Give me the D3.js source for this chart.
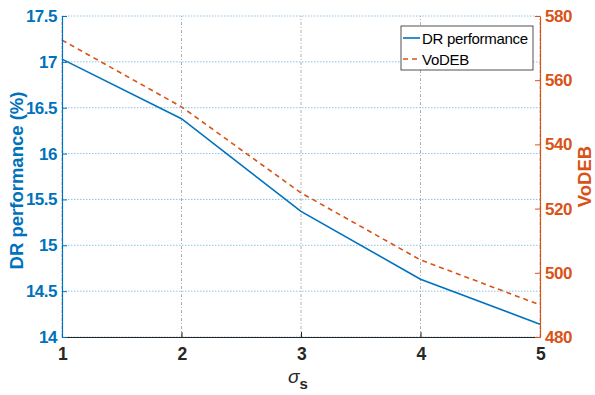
<!DOCTYPE html>
<html>
<head>
<meta charset="utf-8">
<script src="https://cdn.jsdelivr.net/npm/d3@7"></script>
<style>
  body { margin: 0; background: #fff; }
  text { font-family: "Liberation Sans", Arial, sans-serif; }
</style>
</head>
<body>
<script>
var width = 595,
    height = 395;

// data
var sigma = [1, 2, 3, 4, 5];
var drPerf = [17.03, 16.38, 15.37, 14.63, 14.14];
var vodeb = [572.5, 551.7, 524.9, 504.0, 490.0];
var leftTicks = [14, 14.5, 15, 15.5, 16, 16.5, 17, 17.5];
var rightTicks = [480, 500, 520, 540, 560, 580];
var seriesNames = ["DR performance", "VoDEB"];

var blue = "#0072BD",
    orange = "#D95319";

var margin = {top: 16, right: 55, bottom: 58, left: 62};

var svg = d3.select("body").append("svg")
    .attr("width", width)
    .attr("height", height);

var x = d3.scaleLinear().domain([1, 5]).range([margin.left, width - margin.right]);
var yL = d3.scaleLinear().domain([14, 17.5]).range([height - margin.bottom, margin.top]);
var yR = d3.scaleLinear().domain([480, 580]).range([height - margin.bottom, margin.top]);

// horizontal grid (left axis)
svg.append("g")
  .selectAll("line")
    .data(leftTicks)
  .enter().append("line")
    .attr("x1", x(1)).attr("x2", x(5))
    .attr("y1", function(d) { return yL(d); })
    .attr("y2", function(d) { return yL(d); })
    .attr("stroke", "#8fc3e6")
    .attr("stroke-width", 1)
    .attr("stroke-dasharray", "1.5,1.5");

// vertical grid
svg.append("g")
  .selectAll("line")
    .data(sigma)
  .enter().append("line")
    .attr("x1", function(d) { return x(d); })
    .attr("x2", function(d) { return x(d); })
    .attr("y1", yL(14)).attr("y2", yL(17.5))
    .attr("stroke", "#b0b0b0")
    .attr("stroke-width", 1)
    .attr("stroke-dasharray", "3,2,1,2");

// lines
var lineL = d3.line().x(function(d, i) { return x(sigma[i]); }).y(function(d) { return yL(d); });
var lineR = d3.line().x(function(d, i) { return x(sigma[i]); }).y(function(d) { return yR(d); });

svg.append("path")
    .datum(drPerf)
    .attr("d", lineL)
    .attr("fill", "none")
    .attr("stroke", blue)
    .attr("stroke-width", 1.6);

svg.append("path")
    .datum(vodeb)
    .attr("d", lineR)
    .attr("fill", "none")
    .attr("stroke", orange)
    .attr("stroke-width", 1.6)
    .attr("stroke-dasharray", "5,4");

// axes
var xAxis = svg.append("g")
    .attr("transform", "translate(0," + yL(14) + ")")
    .call(d3.axisBottom(x).tickValues(sigma).tickFormat(d3.format("d")).tickSizeInner(-5).tickSizeOuter(0).tickPadding(11));
xAxis.select(".domain").attr("stroke", "#262626");
xAxis.selectAll("line").attr("stroke", "#262626");
xAxis.selectAll("text").attr("fill", "#262626").style("font-size", "17.5px").style("font-weight", "bold").style("letter-spacing", "-0.5px");

var lAxis = svg.append("g")
    .attr("transform", "translate(" + x(1) + ",0)")
    .call(d3.axisLeft(yL).tickValues(leftTicks).tickFormat(d3.format("~g")).tickSizeInner(-5).tickSizeOuter(0).tickPadding(5));
lAxis.select(".domain").attr("stroke", blue);
lAxis.selectAll("line").attr("stroke", blue);
lAxis.selectAll("text").attr("fill", blue).style("font-size", "17px").style("font-weight", "bold").style("letter-spacing", "-0.5px");

var rAxis = svg.append("g")
    .attr("transform", "translate(" + x(5) + ",0)")
    .call(d3.axisRight(yR).tickValues(rightTicks).tickFormat(d3.format("d")).tickSizeInner(-5).tickSizeOuter(0).tickPadding(5));
rAxis.select(".domain").attr("stroke", orange);
rAxis.selectAll("line").attr("stroke", orange);
rAxis.selectAll("text").attr("fill", orange).style("font-size", "17px").style("font-weight", "bold").style("letter-spacing", "-0.5px");

svg.selectAll(".domain").attr("stroke-width", 1.2);

// axis labels
svg.append("text")
    .attr("transform", "translate(23," + ((yL(14) + yL(17.5)) / 2 + 4) + ") rotate(-90)")
    .attr("text-anchor", "middle")
    .attr("fill", blue)
    .style("font-size", "18.5px")
    .style("font-weight", "bold")
    .text("DR performance (%)");

svg.append("text")
    .attr("transform", "translate(591," + ((yR(480) + yR(580)) / 2) + ") rotate(-90)")
    .attr("text-anchor", "middle")
    .attr("fill", orange)
    .style("font-size", "18.5px")
    .style("font-weight", "bold")
    .text("VoDEB");

var xl = svg.append("text")
    .attr("x", (x(1) + x(5)) / 2 - 3)
    .attr("y", 383)
    .attr("text-anchor", "middle")
    .attr("fill", "#262626");
xl.append("tspan").style("font-size", "19px").style("font-style", "italic").text("σ");
xl.append("tspan").attr("dy", 6).style("font-size", "15px").style("font-weight", "bold").text("s");

// legend
var legend = svg.append("g").attr("transform", "translate(401,26)");
legend.append("rect")
    .attr("width", 132).attr("height", 44)
    .attr("fill", "#fff")
    .attr("stroke", "#262626")
    .attr("stroke-width", 0.8);
legend.selectAll("line")
    .data(seriesNames)
  .enter().append("line")
    .attr("x1", 2).attr("x2", 19)
    .attr("y1", function(d, i) { return 12 + i * 21; })
    .attr("y2", function(d, i) { return 12 + i * 21; })
    .attr("stroke", function(d, i) { return i ? orange : blue; })
    .attr("stroke-width", 1.6)
    .attr("stroke-dasharray", function(d, i) { return i ? "5,4" : null; });
legend.selectAll("text")
    .data(seriesNames)
  .enter().append("text")
    .attr("x", 21)
    .attr("y", function(d, i) { return 17.5 + i * 21; })
    .attr("fill", "#000")
    .style("font-size", "15px")
    .style("letter-spacing", "-0.3px")
    .text(function(d) { return d; });
</script>
</body>
</html>
